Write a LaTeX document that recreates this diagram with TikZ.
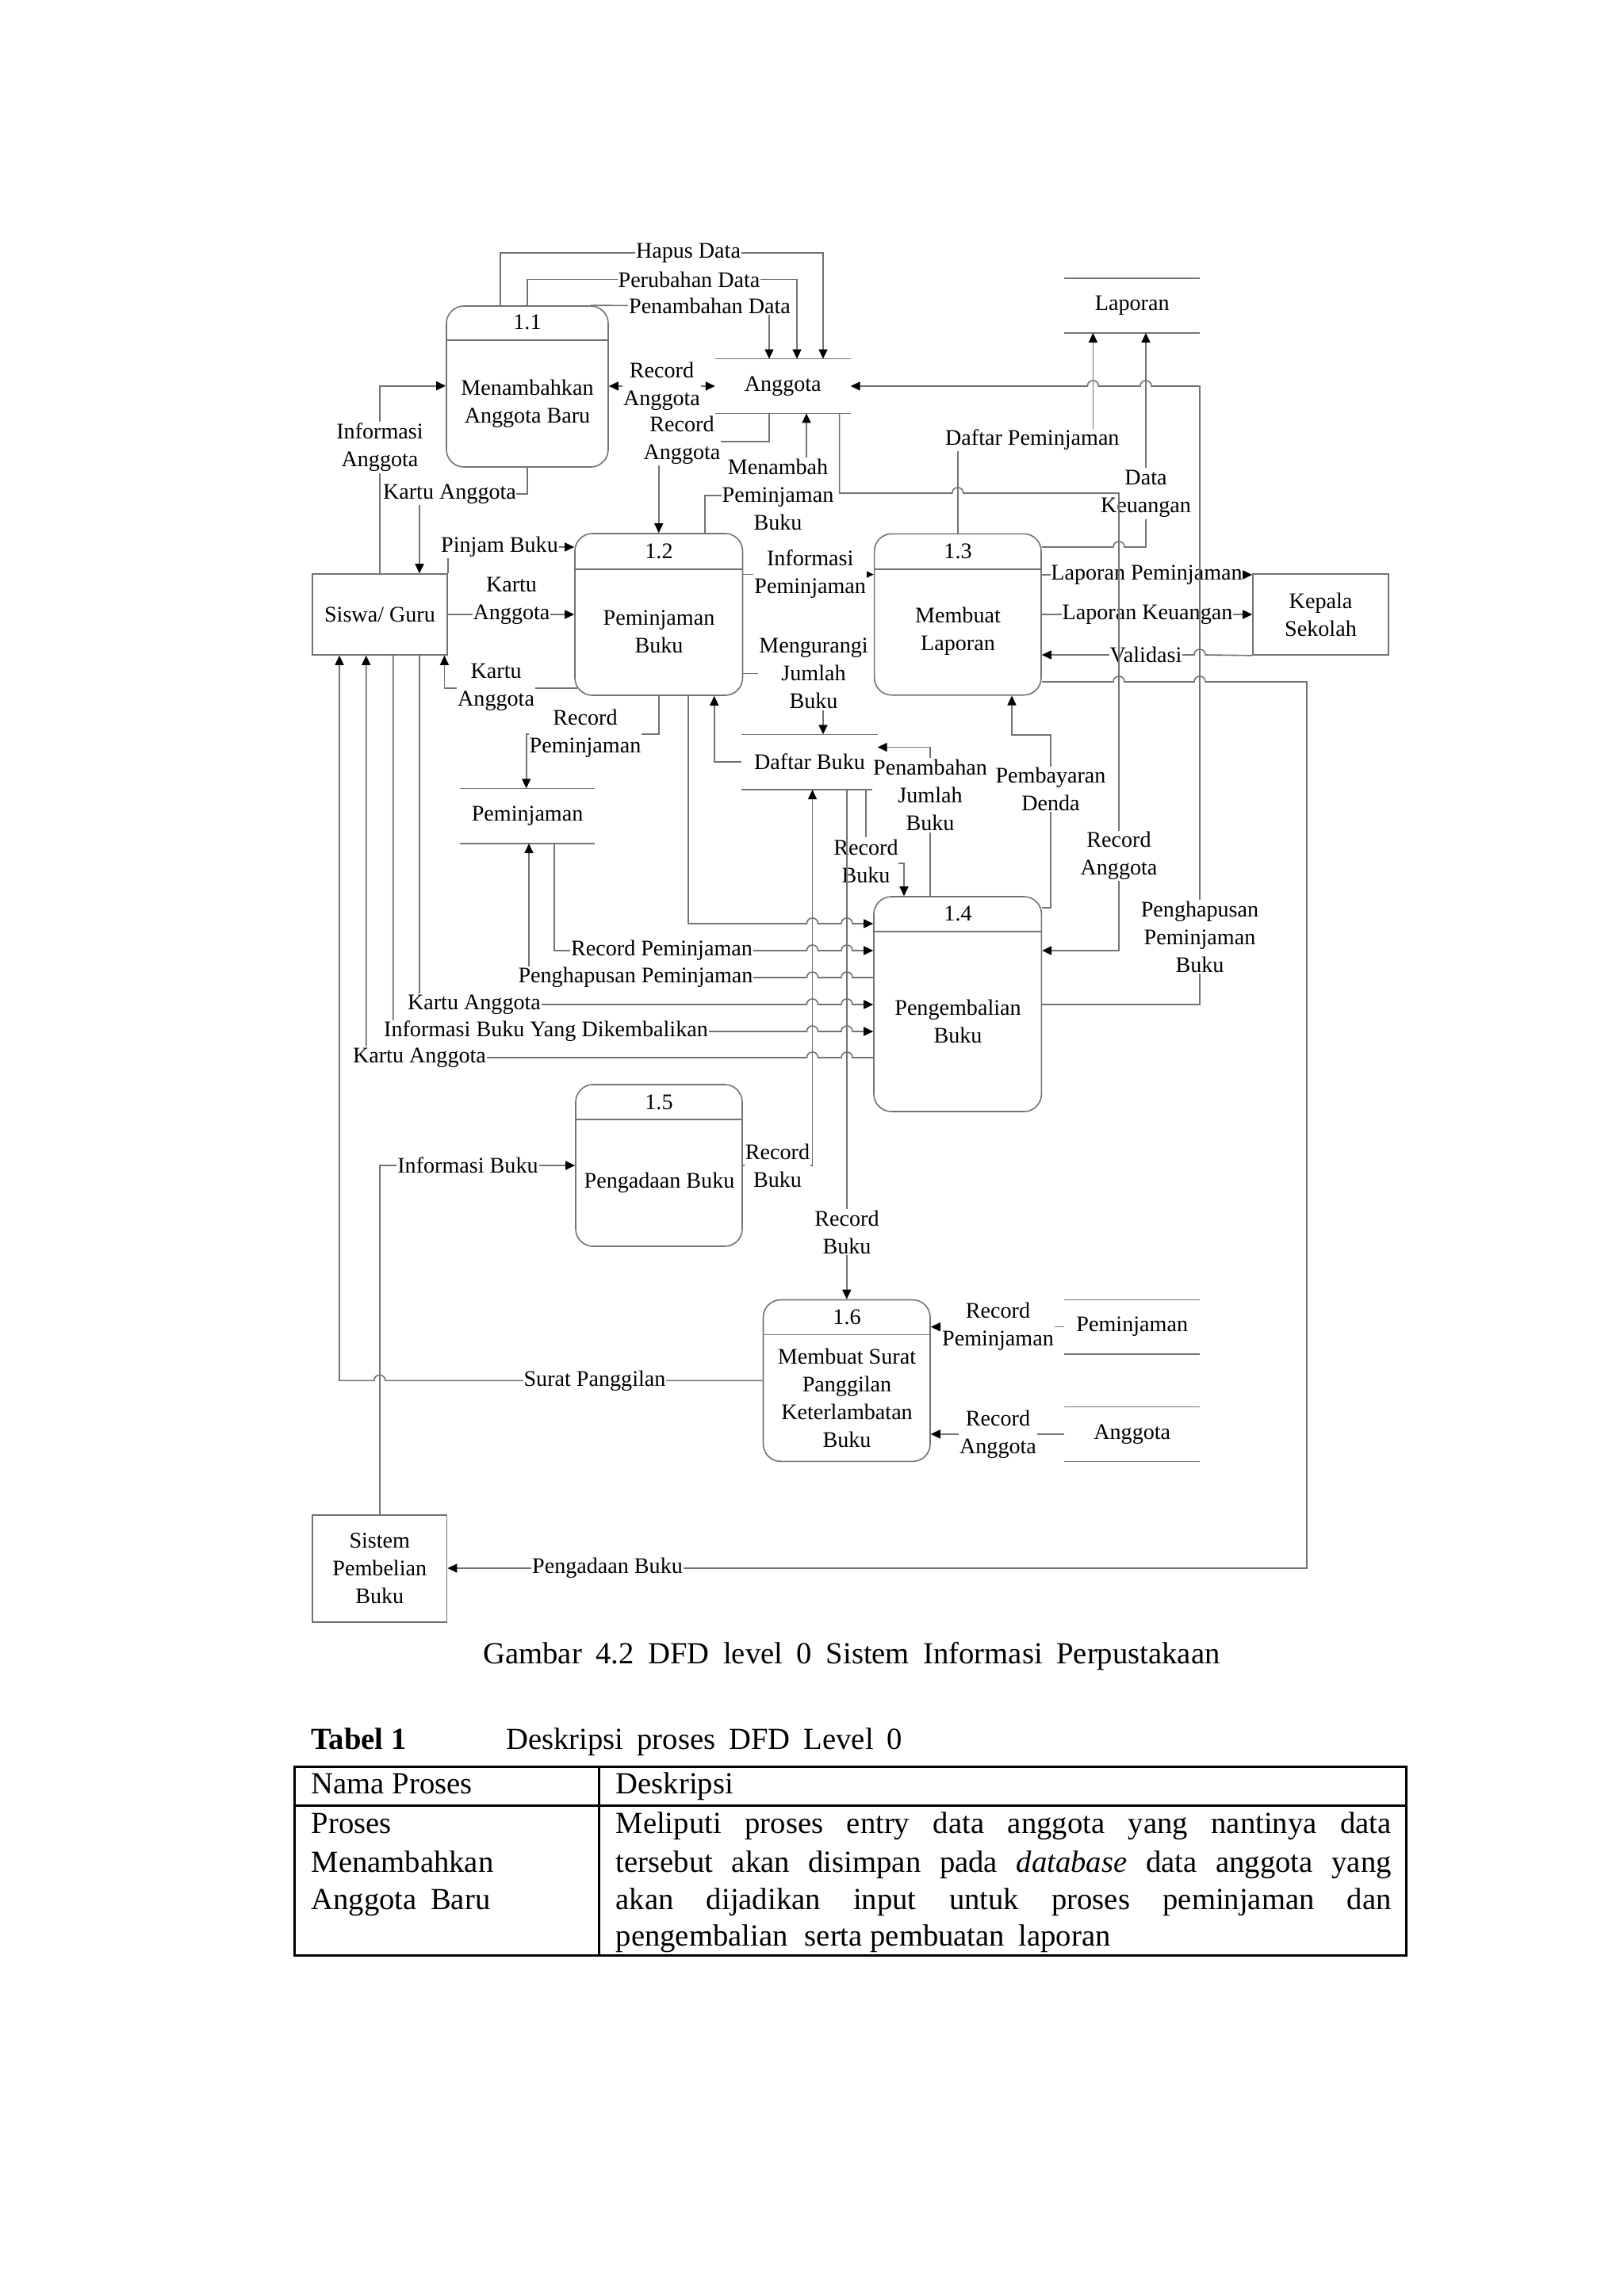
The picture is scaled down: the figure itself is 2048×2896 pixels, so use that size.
\documentclass[tikz,border=0pt]{standalone}
\usepackage{fontspec}
\setmainfont{Liberation Serif}
\usetikzlibrary{arrows.meta,calc}
\definecolor{linegray}{gray}{0.45}
\newcommand\dgfont{\fontsize{8}{10}\selectfont}
\newcommand\tbfont{\fontsize{11}{13.5}\selectfont}
\newcommand\HopR[2]{-- ({#1-7},#2) .. controls ({#1-7},{#2-9.33}) and ({#1+7},{#2-9.33}) .. ({#1+7},#2)}
\newcommand\HopL[2]{-- ({#1+7},#2) .. controls ({#1+7},{#2-9.33}) and ({#1-7},{#2-9.33}) .. ({#1-7},#2)}
\tikzset{
  >={Triangle[length=1.2mm,width=1.1mm,color=black,fill=black]},
  ln/.style={draw=linegray, line width=0.16mm},
  flow/.style={ln,->},
  proc/.style={ln, rounded corners=2.2mm, inner sep=0},
  ent/.style={ln, inner sep=0, font=\dgfont, align=center},
  store/.style={inner sep=0, font=\dgfont},
  txt/.style={inner sep=0, font=\dgfont, align=center},
  lbl/.style={fill=white, inner xsep=0.1mm, inner ysep=0.15mm, font=\dgfont, align=center},
  lbn/.style={inner xsep=0mm, inner ysep=0.15mm, font=\dgfont, align=center},
  tbl/.style={draw=black, line width=0.3mm},
  tt/.style={inner sep=0, font=\tbfont, anchor=base west},
}
\begin{document}
\begin{tikzpicture}[x=0.1mm,y=-0.1mm]
\fill[white] (0,0) rectangle (2048,2896);
\useasboundingbox (0,0) rectangle (2048,2896);

% ---------- processes ----------
\node[proc, minimum width=20.4mm, minimum height=20.3mm] (p11) at (665,487.5) {};
\draw[ln] (p11.west |- 0,429) -- (p11.east |- 0,429);
\node[txt] (p11id) at (665,406.7) {1.1};
\node[txt] (p11tx) at (665,509) {Menambahkan\\Anggota Baru};

\node[proc, minimum width=21.15mm, minimum height=20.4mm] (p12) at (830.75,775) {};
\draw[ln] (p12.west |- 0,717.7) -- (p12.east |- 0,717.7);
\node[txt] (p12id) at (831,695) {1.2};
\node[txt] (p12tx) at (831,796.5) {Peminjaman\\Buku};

\node[proc, minimum width=21.04mm, minimum height=20.34mm] (p13) at (1207.8,775) {};
\draw[ln] (p13.west |- 0,717.7) -- (p13.east |- 0,717.7);
\node[txt] (p13id) at (1208,695) {1.3};
\node[txt] (p13tx) at (1208,796.5) {Membuat\\Laporan};

\node[proc, minimum width=21.14mm, minimum height=27.1mm] (p14) at (1207.7,1266.5) {};
\draw[ln] (p14.west |- 0,1175) -- (p14.east |- 0,1175);
\node[txt] (p14id) at (1208,1152.7) {1.4};
\node[txt] (p14tx) at (1208,1288.4) {Pengembalian\\Buku};

\node[proc, minimum width=21mm, minimum height=20.4mm] (p15) at (831,1470) {};
\draw[ln] (p15.west |- 0,1412) -- (p15.east |- 0,1412);
\node[txt] (p15id) at (831,1390) {1.5};
\node[txt] (p15tx) at (831.5,1492) {Pengadaan Buku};

\node[proc, minimum width=21.05mm, minimum height=20.38mm] (p16) at (1067.75,1741.4) {};
\draw[ln] (p16.west |- 0,1683.3) -- (p16.east |- 0,1683.3);
\node[txt] (p16id) at (1068,1661.7) {1.6};
\node[txt] (p16tx) at (1068,1763.4) {Membuat Surat\\Panggilan\\Keterlambatan\\Buku};

% ---------- external entities ----------
\node[ent, minimum width=17mm, minimum height=10.2mm] (siswa) at (479,775) {Siswa/ Guru};
\node[ent, minimum width=17.1mm, minimum height=10.2mm] (kepala) at (1665.5,775) {Kepala\\Sekolah};
\node[ent, minimum width=16.96mm, minimum height=13.53mm] (sistem) at (478.8,1978.35) {Sistem\\Pembelian\\Buku};

% ---------- data stores ----------
\node[store, minimum width=16.95mm, minimum height=6.74mm] (sAng) at (987.25,487) {Anggota};
\node[store, minimum width=16.95mm, minimum height=6.76mm] (sLap) at (1427.75,385.5) {Laporan};
\node[store, minimum width=16.9mm, minimum height=6.83mm] (sPem1) at (665.1,1029.15) {Peminjaman};
\node[store, minimum width=17mm, minimum height=6.84mm] (sDaftar) at (1021,961.2) {Daftar Buku};
\node[store, minimum width=16.95mm, minimum height=6.73mm] (sPem2) at (1427.75,1673.65) {Peminjaman};
\node[store, minimum width=16.95mm, minimum height=6.77mm] (sAng2) at (1427.75,1808.85) {Anggota};
\foreach \s in {sAng,sLap,sPem1,sDaftar,sPem2,sAng2}{
  \draw[ln] (\s.north west) -- (\s.north east) (\s.south west) -- (\s.south east);
}

% ---------- labels without fill (lines pass through them) ----------
\node[lbn] (lDataKeu) at (1445,622.5) {Data\\Keuangan};
\node[lbn] (lLapPem) at (1446,725) {Laporan Peminjaman};
\node[lbn] (lLapKeu) at (1447,775) {Laporan Keuangan};
\node[lbn] (lVal) at (1445,826) {Validasi};
\node[lbn] (lRecBuku1) at (1092,1086) {Record\\Buku};

% ---------- connectors ----------
\draw[flow] (p11.north -| 631,0) |- (1038,319) -- (sAng.north -| 1038,0);
\draw[flow] (p11.north) |- (1005,352.7) -- (sAng.north -| 1005,0);
\draw[flow] (p11.north -| 745,0) -- (970,386) -- (sAng.north -| 970,0);
\draw[ln,<->] (p11.east |- 0,487) -- (sAng.west);
\draw[flow] (sAng.south -| 970,0) |- (p12.north |- 0,556.7) -- (p12.north);
\draw[flow] (p12.north -| 889,0) |- (1017,625) -- (sAng.south -| 1017,0);
\draw[flow] (sAng.south -| 1058.6,0) -- (1058.6,622) \HopR{1207.8}{622} -- (1411,622) -- (1411,1199) -- (p14.east |- 0,1199);
\draw[flow] (siswa.north) |- (p11.west |- 0,486.7);
\draw[flow] (p11.south) |- (529,623) -- (siswa.north -| 529,0);
\draw[flow] (siswa.north east) |- (p12.west |- 0,690);
\draw[flow] (siswa.east) -- (p12.west |- siswa.east);
\draw[flow] ($(p12.south west)+(4,-10)$) -| (siswa.south -| 560.4,0);
\draw[flow] (p12.south) |- (663.7,926) -- (sPem1.north -| 663.7,0);
\draw[flow] (p12.south -| 868,0) -- (868,1165) \HopR{1024.5}{1165} \HopR{1068}{1165} -- (p14.west |- 0,1165);
\draw[flow] (sDaftar.west) -| (p12.south -| 900.7,0);
\draw[flow] (p12.east |- 0,724.6) -- (p13.west |- 0,724.6);
\draw[flow] (p12.east |- 0,849.6) -| (sDaftar.north -| 1038,0);
\draw[flow] (p13.north) |- (1378.4,555) -- (sLap.south -| 1378.4,0);
\draw[ln] (p13.east |- 0,690) \HopR{1411}{690} -- (1445,690) -- (lDataKeu.south);
\draw[flow] (lDataKeu.north) -- (sLap.south -| 1445,0);
\draw[ln] (p13.east |- 0,725) -- (lLapPem.west);
\draw[flow] (lLapPem.east) -- (kepala.west |- 0,725);
\draw[ln] (p13.east |- 0,775) -- (lLapKeu.west);
\draw[flow] (lLapKeu.east) -- (kepala.west);
\draw[ln] (kepala.south west) \HopL{1513}{826} -- (lVal.east);
\draw[flow] (lVal.west) -- (p13.east |- 0,826);
\draw[flow] (p13.east |- 0,860) \HopR{1411}{860} \HopR{1513}{860} -| (1648,1978) -- (sistem.east |- 0,1978);
\draw[flow] (p14.east |- 0,1145) -- (1325,1145) |- (1276,927) -- (p13.south -| 1276,0);
\draw[flow] (p14.north -| 1173,0) |- (sDaftar.east |- 0,942.5);
\draw[ln] (sDaftar.south -| 1092,0) -- (lRecBuku1.north -| 1092,0);
\draw[flow] (lRecBuku1.east |- 0,1089) -| (p14.north -| 1140,0);
\draw[flow] (p14.east |- 0,1267) -| (1513,487) \HopL{1445}{487} \HopL{1378.4}{487} -- (sAng.east);
\draw[flow] (sPem1.south -| 699,0) -- (699,1199) \HopR{1024.5}{1199} \HopR{1068}{1199} -- (p14.west |- 0,1199);
\draw[flow] (p14.west |- 0,1233) \HopL{1068}{1233} \HopL{1024.5}{1233} -- (667,1233) -- (sPem1.south -| 667,0);
\draw[flow] (siswa.south -| 529,0) -- (529,1267) \HopR{1024.5}{1267} \HopR{1068}{1267} -- (p14.west |- 0,1267);
\draw[flow] (siswa.south -| 495.7,0) -- (495.7,1301) \HopR{1024.5}{1301} \HopR{1068}{1301} -- (p14.west |- 0,1301);
\draw[flow] (p14.west |- 0,1334) \HopL{1068}{1334} \HopL{1024.5}{1334} -- (461.7,1334) -- (siswa.south -| 461.7,0);
\draw[flow] (p16.west) \HopL{478.8}{1741.4} -- (428,1741.4) -- (siswa.south -| 428,0);
\draw[flow] (sistem.north) |- (p15.west);
\draw[flow] (p15.east) -| (sDaftar.south -| 1024.5,0);
\draw[flow] (sDaftar.south -| p16.north) -- (p16.north);
\draw[flow] (sPem2.west) -- (p16.east |- sPem2.west);
\draw[flow] (sAng2.west) -- (p16.east |- sAng2.west);

% ---------- labels with white background ----------
\node[lbl] (lHapus) at (868,319) {Hapus Data};
\node[lbl] (lPerubahan) at (869,352.7) {Perubahan Data};
\node[lbl] (lPenambahan) at (895,386) {Penambahan Data};
\node[lbl] (lRecAng1) at (834.5,487.5) {Record\\Anggota};
\node[lbl] (lRecAng2) at (860,555.5) {Record\\Anggota};
\node[lbl] (lMenambah) at (981,624) {Menambah\\Peminjaman\\Buku};
\node[lbl] (lInfoAng) at (479,564.5) {Informasi\\Anggota};
\node[lbl, inner xsep=0] (lKartu1) at (567,623) {Kartu Anggota};
\node[lbl] (lPinjam) at (630,690) {Pinjam Buku};
\node[lbl] (lKartu2) at (645,757.5) {Kartu\\Anggota};
\node[lbl] (lKartu3) at (625.6,867) {Kartu\\Anggota};
\node[lbl] (lRecPem1) at (738,925.5) {Record\\Peminjaman};
\node[lbl] (lInfoPem) at (1021.7,724) {Informasi\\Peminjaman};
\node[lbl] (lMengurangi) at (1026,849.6) {Mengurangi\\Jumlah\\Buku};
\node[lbl] (lDaftarPem) at (1301.8,555) {Daftar Peminjaman};
\node[lbl] (lPenJml) at (1173,1003) {Penambahan\\Jumlah\\Buku};
\node[lbl] (lPembayaran) at (1325,995.5) {Pembayaran\\Denda};
\node[lbl] (lRecAng3) at (1411,1079.5) {Record\\Anggota};
\node[lbl] (lPenghapusan) at (1513,1181.6) {Penghapusan\\Peminjaman\\Buku};
\node[lbl] (lRecPem2) at (834.5,1199) {Record Peminjaman};
\node[lbl] (lPenghapusanPem) at (801.5,1233) {Penghapusan Peminjaman};
\node[lbl] (lKartu4) at (598,1267) {Kartu Anggota};
\node[lbl] (lInfoKemb) at (688.5,1301) {Informasi Buku Yang Dikembalikan};
\node[lbl] (lKartu5) at (529,1334) {Kartu Anggota};
\node[lbl] (lInfoBuku) at (590,1470) {Informasi Buku};
\node[lbl] (lRecBuku2) at (980.5,1470.5) {Record\\Buku};
\node[lbl] (lRecBuku3) at (1068,1554) {Record\\Buku};
\node[lbl] (lSurat) at (750,1741.4) {Surat Panggilan};
\node[lbl] (lRecPem3) at (1258.5,1673) {Record\\Peminjaman};
\node[lbl] (lRecAng4) at (1258.5,1809) {Record\\Anggota};
\node[lbl] (lPengadaan) at (766,1978) {Pengadaan Buku};

% ---------- caption ----------
\node[inner sep=0, font=\tbfont, anchor=base] (caption) at (1074,2098.3)
  {\makebox[92.9mm][s]{Gambar 4.2 DFD level 0 Sistem Informasi Perpustakaan}};

% ---------- table ----------
\node[tt, font=\tbfont\bfseries] (tabno) at (392,2206.7) {Tabel 1};
\node[tt] (tabtitle) at (637.5,2206.7) {\makebox[50mm][s]{Deskripsi proses DFD Level 0}};
\draw[tbl] (371,2228) rectangle (1773.5,2466);
\draw[tbl] (371,2277) -- (1773.5,2277);
\draw[tbl] (755,2228) -- (755,2466);
\node[tt] (hNama) at (392,2262.7) {Nama Proses};
\node[tt] (hDesk) at (776,2262.7) {Deskripsi};
\node[tt] (c1a) at (392,2312.7) {Proses};
\node[tt] (c1b) at (392,2361) {Menambahkan};
\node[tt] (c1c) at (392,2408.3) {Anggota\hspace{0.2em} Baru};
\node[tt] (d1) at (776,2312.7) {\makebox[97.8mm][s]{Meliputi proses entry data anggota yang nantinya data}};
\node[tt] (d2) at (776,2361) {\makebox[97.8mm][s]{tersebut akan disimpan pada \textit{database} data anggota yang}};
\node[tt] (d3) at (776,2408.3) {\makebox[97.8mm][s]{akan dijadikan input untuk proses peminjaman dan}};
\node[tt] (d4) at (776,2454.5) {pengembalian\hspace{0.3em} serta pembuatan\hspace{0.2em} laporan};
\end{tikzpicture}
\end{document}
